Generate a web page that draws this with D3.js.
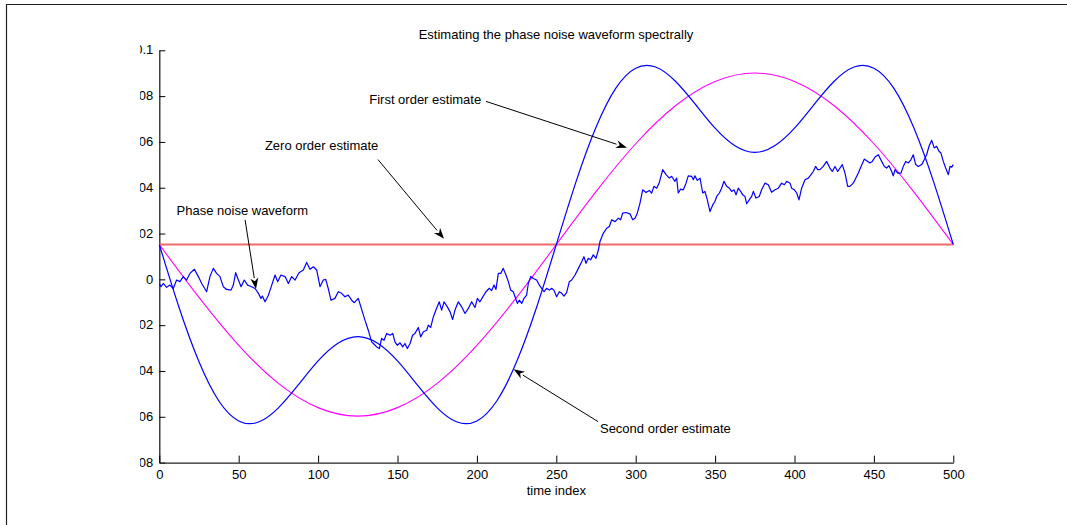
<!DOCTYPE html>
<html>
<head>
<meta charset="utf-8">
<script src="https://cdn.jsdelivr.net/npm/d3@7"></script>
<style>
  html, body { margin: 0; padding: 0; background: #fff; }
  svg { display: block; }
  text { font-family: "Liberation Sans", Arial, Helvetica, sans-serif; font-size: 13px; fill: #000; }
</style>
</head>
<body>
<svg id="chart" width="1067" height="525"></svg>
<script>
// ---- data ----
const xTicks = [0, 50, 100, 150, 200, 250, 300, 350, 400, 450, 500];
const yTicks = [-0.08, -0.06, -0.04, -0.02, 0, 0.02, 0.04, 0.06, 0.08, 0.1];
const yTickLabels = ["-0.08", "-0.06", "-0.04", "-0.02", "0", "0.02", "0.04", "0.06", "0.08", "0.1"];

const titleText = "Estimating the phase noise waveform spectrally";
const xLabelText = "time index";

// Phase noise waveform (time index, phase)
const noiseIndex = [
  0, 1.1, 2.5, 4.6, 6.7, 8.8, 10.9, 13.0, 15.1, 17.2, 19.3, 22.1, 24.6, 26.7, 29.8, 31.9, 34.0, 36.1, 38.2, 40.3,
  42.4, 45.2, 46.6, 48.1, 49.8, 51.5, 53.5, 55.6, 57.1, 60.3, 62.4, 64.0, 64.9, 66.6, 68.7, 70.8, 72.9, 74.5, 76.6, 79.2,
  81.3, 83.4, 85.5, 88.0, 90.7, 92.8, 94.9, 97.0, 99.1, 101.2, 103.3, 104.8, 106.4, 108.1, 110.6, 112.7, 114.8, 116.9, 119.0, 121.1,
  122.8, 125.3, 129.5, 131.6, 133.7, 134.8, 136.9, 138.6, 140.0, 141.5, 143.2, 145.3, 147.0, 148.4, 149.9, 151.6, 153.3, 154.7, 156.2, 157.9,
  159.5, 161.0, 163.1, 164.6, 166.3, 168.4, 169.4, 170.9, 172.6, 174.2, 176.3, 177.8, 179.3, 181.4, 183.1, 184.7, 186.2, 188.3, 190.4, 192.5,
  194.6, 196.7, 198.8, 200.3, 201.9, 204.0, 205.7, 207.8, 209.3, 210.8, 212.0, 213.5, 215.0, 216.6, 218.3, 219.8, 221.3, 222.9, 224.0, 225.5,
  226.7, 228.2, 229.7, 231.3, 232.4, 233.9, 235.5, 237.6, 239.3, 240.8, 242.3, 243.9, 245.6, 247.1, 248.5, 250.2, 251.9, 253.4, 254.8, 256.5,
  258.2, 259.7, 261.8, 263.9, 266.0, 267.4, 268.7, 270.2, 271.6, 273.3, 275.0, 276.5, 277.5, 279.6, 281.7, 283.4, 284.9, 287.0, 289.1, 290.5,
  291.8, 293.9, 296.4, 298.1, 299.6, 301.0, 302.7, 304.4, 306.5, 308.6, 310.0, 311.5, 313.2, 314.9, 317.0, 319.1, 321.2, 322.6, 324.7, 325.8,
  326.8, 328.3, 330.0, 331.7, 333.1, 335.2, 336.3, 337.3, 338.8, 340.5, 342.2, 343.6, 345.1, 346.8, 348.5, 349.9, 351.0, 352.7, 354.1, 355.6,
  357.3, 359.0, 360.4, 361.9, 363.2, 364.6, 366.1, 367.4, 368.8, 369.9, 371.5, 373.0, 374.1, 375.7, 377.8, 379.3, 381.4, 383.5, 385.6, 387.7,
  389.8, 391.9, 393.6, 395.1, 397.2, 398.2, 399.9, 401.4, 402.8, 404.5, 406.6, 408.7, 410.4, 411.8, 413.3, 414.6, 416.0, 418.1, 420.2, 422.3,
  423.8, 425.5, 427.2, 430.1, 431.8, 433.5, 434.9, 437.0, 438.1, 440.2, 441.9, 444.0, 446.1, 447.5, 449.0, 450.7, 452.8, 454.9, 456.6, 458.0,
  459.5, 461.2, 462.2, 463.3, 465.0, 467.1, 468.5, 470.0, 471.7, 473.3, 474.8, 476.3, 478.0, 480.1, 481.7, 483.2, 484.7, 486.4, 488.0, 489.5,
  491.0, 492.2, 493.7, 495.2, 496.9, 497.9, 499.0, 500.0
];
const noiseValue = [
  -0.0020, -0.0032, -0.0018, -0.0035, -0.0025, -0.0040, -0.0003, -0.0010, 0.0012, -0.0003, 0.0026, 0.0044, 0.0012, -0.0018, -0.0054, 0.0012, 0.0048, 0.0026, 0.0012, -0.0032,
  -0.0044, -0.0047, -0.0025, 0.0029, -0.0003, -0.0032, -0.0003, -0.0025, -0.0029, -0.0040, -0.0061, -0.0083, -0.0073, -0.0098, -0.0069, -0.0025, 0.0019, -0.0010, 0.0019, 0.0012,
  -0.0018, 0.0012, -0.0003, 0.0029, 0.0041, 0.0074, 0.0044, 0.0055, 0.0041, -0.0032, -0.0003, 0.0000, -0.0040, -0.0091, -0.0083, -0.0054, -0.0061, -0.0076, -0.0069, -0.0091,
  -0.0102, -0.0083, -0.0178, -0.0222, -0.0273, -0.0280, -0.0295, -0.0302, -0.0258, -0.0266, -0.0236, -0.0244, -0.0236, -0.0273, -0.0288, -0.0277, -0.0295, -0.0280, -0.0302, -0.0280,
  -0.0244, -0.0236, -0.0210, -0.0251, -0.0229, -0.0222, -0.0200, -0.0210, -0.0163, -0.0134, -0.0098, -0.0134, -0.0098, -0.0120, -0.0142, -0.0175, -0.0134, -0.0098, -0.0120, -0.0149,
  -0.0127, -0.0098, -0.0123, -0.0083, -0.0098, -0.0073, -0.0054, -0.0039, -0.0049, -0.0025, -0.0044, 0.0026, 0.0026, 0.0048, 0.0019, -0.0010, -0.0047, -0.0054, -0.0076, -0.0105,
  -0.0091, -0.0105, -0.0083, -0.0069, -0.0017, 0.0012, 0.0004, -0.0003, -0.0025, -0.0039, -0.0054, -0.0039, -0.0047, -0.0039, -0.0047, -0.0076, -0.0054, -0.0061, -0.0073, -0.0058,
  -0.0010, -0.0003, 0.0019, 0.0048, 0.0077, 0.0099, 0.0070, 0.0092, 0.0085, 0.0107, 0.0092, 0.0128, 0.0165, 0.0201, 0.0223, 0.0231, 0.0260, 0.0252, 0.0267, 0.0260,
  0.0289, 0.0292, 0.0286, 0.0260, 0.0267, 0.0289, 0.0333, 0.0391, 0.0379, 0.0388, 0.0376, 0.0406, 0.0398, 0.0423, 0.0479, 0.0457, 0.0442, 0.0450, 0.0428, 0.0442,
  0.0377, 0.0394, 0.0391, 0.0420, 0.0452, 0.0450, 0.0435, 0.0452, 0.0432, 0.0442, 0.0377, 0.0384, 0.0347, 0.0296, 0.0325, 0.0340, 0.0362, 0.0377, 0.0398, 0.0428,
  0.0406, 0.0398, 0.0384, 0.0391, 0.0369, 0.0398, 0.0384, 0.0369, 0.0362, 0.0330, 0.0347, 0.0362, 0.0384, 0.0355, 0.0362, 0.0391, 0.0420, 0.0413, 0.0380, 0.0391,
  0.0398, 0.0420, 0.0413, 0.0428, 0.0420, 0.0398, 0.0391, 0.0377, 0.0347, 0.0398, 0.0435, 0.0442, 0.0457, 0.0471, 0.0493, 0.0479, 0.0479, 0.0493, 0.0515, 0.0486,
  0.0471, 0.0493, 0.0471, 0.0501, 0.0464, 0.0406, 0.0406, 0.0420, 0.0435, 0.0464, 0.0493, 0.0525, 0.0515, 0.0508, 0.0515, 0.0534, 0.0544, 0.0515, 0.0493, 0.0486,
  0.0496, 0.0471, 0.0452, 0.0479, 0.0464, 0.0464, 0.0493, 0.0515, 0.0508, 0.0522, 0.0544, 0.0501, 0.0493, 0.0501, 0.0522, 0.0544, 0.0581, 0.0607, 0.0574, 0.0581,
  0.0559, 0.0552, 0.0515, 0.0486, 0.0457, 0.0493, 0.0490, 0.0501
];

// Zero order estimate (mean phase)
const zeroOrderIndex = [0, 500];
const zeroOrderValue = [0.0152, 0.0152];

// First order estimate
const firstOrderIndex = [0, 25, 50, 75, 100, 125, 150, 175, 200, 225, 250, 275, 300, 325, 350, 375, 400, 425, 450, 475, 500];
const firstOrderValue = [0.0152, -0.0079, -0.0288, -0.0454, -0.0560, -0.0597, -0.0560, -0.0454, -0.0288, -0.0079,
  0.0152, 0.0383, 0.0592, 0.0758, 0.0864, 0.0901, 0.0864, 0.0758, 0.0592, 0.0383, 0.0152];

// Second order estimate, every 12.5 samples
const secondOrderIndex = [0, 12.5, 25, 37.5, 50, 62.5, 75, 87.5, 100, 112.5, 125, 137.5, 150, 162.5, 175, 187.5, 200, 212.5, 225, 237.5,
  250, 262.5, 275, 287.5, 300, 312.5, 325, 337.5, 350, 362.5, 375, 387.5, 400, 412.5, 425, 437.5, 450, 462.5, 475, 487.5, 500];
const secondOrderValue = [0.0152, -0.0124, -0.0360, -0.0531, -0.0618, -0.0623, -0.0561, -0.0461, -0.0356, -0.0279,
  -0.0250, -0.0279, -0.0356, -0.0461, -0.0561, -0.0623, -0.0618, -0.0531, -0.0360, -0.0124,
  0.0152, 0.0428, 0.0664, 0.0835, 0.0922, 0.0927, 0.0865, 0.0765, 0.0660, 0.0583,
  0.0554, 0.0583, 0.0660, 0.0765, 0.0865, 0.0927, 0.0922, 0.0835, 0.0664, 0.0428, 0.0152];

// Annotations: label anchor and arrow tail/tip, in (time index, phase) units
const annoText = ["Phase noise waveform", "Zero order estimate", "First order estimate", "Second order estimate"];
const annoTextAt = [[10.9, 0.0282], [66.5, 0.0566], [132.2, 0.0764], [277.5, -0.0669]];
const annoTail = [[54.0, 0.0260], [137.7, 0.0523], [205.7, 0.0777], [276.3, -0.0621]];
const annoTip = [[60.9, -0.0042], [179.3, 0.0177], [294.5, 0.0575], [223.1, -0.0393]];

// ---- drawing ----
const svg = d3.select("#chart");
const W = 1067, H = 525;

svg.append("rect").attr("width", W).attr("height", H).attr("fill", "#fff");

// figure frame
svg.append("path")
  .attr("d", `M6.5,${H} V4.5 H${W}`)
  .attr("fill", "none").attr("stroke", "#222").attr("stroke-width", 1.2);

const x = d3.scaleLinear().domain([0, 500]).range([159.3, 953.3]);
const y = d3.scaleLinear().domain([-0.08, 0.1]).range([462.6, 50.3]);

// clip for tick labels on the left
const defs = svg.append("defs");
defs.append("clipPath").attr("id", "ylabClip")
  .append("rect").attr("x", 140).attr("y", 0).attr("width", 40).attr("height", H);

// title
svg.append("text")
  .attr("x", 556).attr("y", 39)
  .attr("text-anchor", "middle")
  .text(titleText);

// axes
const yAxis = d3.axisLeft(y)
  .tickValues(yTicks)
  .tickFormat((d, i) => yTickLabels[i])
  .tickSizeInner(-6).tickSizeOuter(0).tickPadding(6);

const xAxis = d3.axisBottom(x)
  .tickValues(xTicks)
  .tickFormat(d3.format("d"))
  .tickSizeInner(-7).tickSizeOuter(0).tickPadding(7);

const gy = svg.append("g").attr("transform", `translate(${x(0)},0)`).call(yAxis);
const gx = svg.append("g").attr("transform", `translate(0,${y(-0.08)})`).call(xAxis);

[gx, gy].forEach(g => {
  g.attr("font-family", null).attr("font-size", null);
  g.select(".domain").attr("stroke", "#222").attr("stroke-width", 1.3);
  g.selectAll(".tick line").attr("stroke", "#000").attr("stroke-width", 1);
  g.selectAll(".tick text").attr("fill", "#000");
});
// labels on the y axis are trimmed at the left edge of the label column
gy.selectAll(".tick").each(function (d) {
  const t = d3.select(this);
  t.select("text").remove();
  svg.append("text")
    .attr("clip-path", "url(#ylabClip)")
    .attr("x", x(0) - 6).attr("y", y(d)).attr("dy", "0.32em")
    .attr("text-anchor", "end")
    .text(yTickLabels[yTicks.indexOf(d)]);
});

// x axis label
svg.append("text")
  .attr("x", x(250)).attr("y", 495)
  .attr("text-anchor", "middle")
  .text(xLabelText);

// series
const lineFor = (idx, vals, curve) => d3.line()
  .x((d, i) => x(idx[i]))
  .y((d, i) => y(vals[i]))
  .curve(curve)(vals);

svg.append("path")
  .attr("d", lineFor(zeroOrderIndex, zeroOrderValue, d3.curveLinear))
  .attr("fill", "none").attr("stroke", "#f06a6a").attr("stroke-width", 2);

svg.append("path")
  .attr("d", lineFor(firstOrderIndex, firstOrderValue, d3.curveNatural))
  .attr("fill", "none").attr("stroke", "#ff00ff").attr("stroke-width", 1.1);

svg.append("path")
  .attr("d", lineFor(secondOrderIndex, secondOrderValue, d3.curveNatural))
  .attr("fill", "none").attr("stroke", "#0000ff").attr("stroke-width", 1.2);

svg.append("path")
  .attr("d", lineFor(noiseIndex, noiseValue, d3.curveLinear))
  .attr("fill", "none").attr("stroke", "#0000ff").attr("stroke-width", 1.2)
  .attr("stroke-linejoin", "round");

// annotations
annoText.forEach((txt, i) => {
  svg.append("text")
    .attr("x", x(annoTextAt[i][0])).attr("y", y(annoTextAt[i][1]))
    .text(txt);

  const x0 = x(annoTail[i][0]), y0 = y(annoTail[i][1]);
  const x1 = x(annoTip[i][0]), y1 = y(annoTip[i][1]);
  const ang = Math.atan2(y1 - y0, x1 - x0);
  const len = 11, half = 4;
  const bx = x1 - len * Math.cos(ang), by = y1 - len * Math.sin(ang);
  svg.append("line")
    .attr("x1", x0).attr("y1", y0).attr("x2", bx).attr("y2", by)
    .attr("stroke", "#000").attr("stroke-width", 1);
  const px = -Math.sin(ang) * half, py = Math.cos(ang) * half;
  const notchX = x1 - 0.7 * len * Math.cos(ang), notchY = y1 - 0.7 * len * Math.sin(ang);
  svg.append("path")
    .attr("d", `M${x1},${y1} L${bx + px},${by + py} L${notchX},${notchY} L${bx - px},${by - py} Z`)
    .attr("fill", "#000");
});
</script>
</body>
</html>
